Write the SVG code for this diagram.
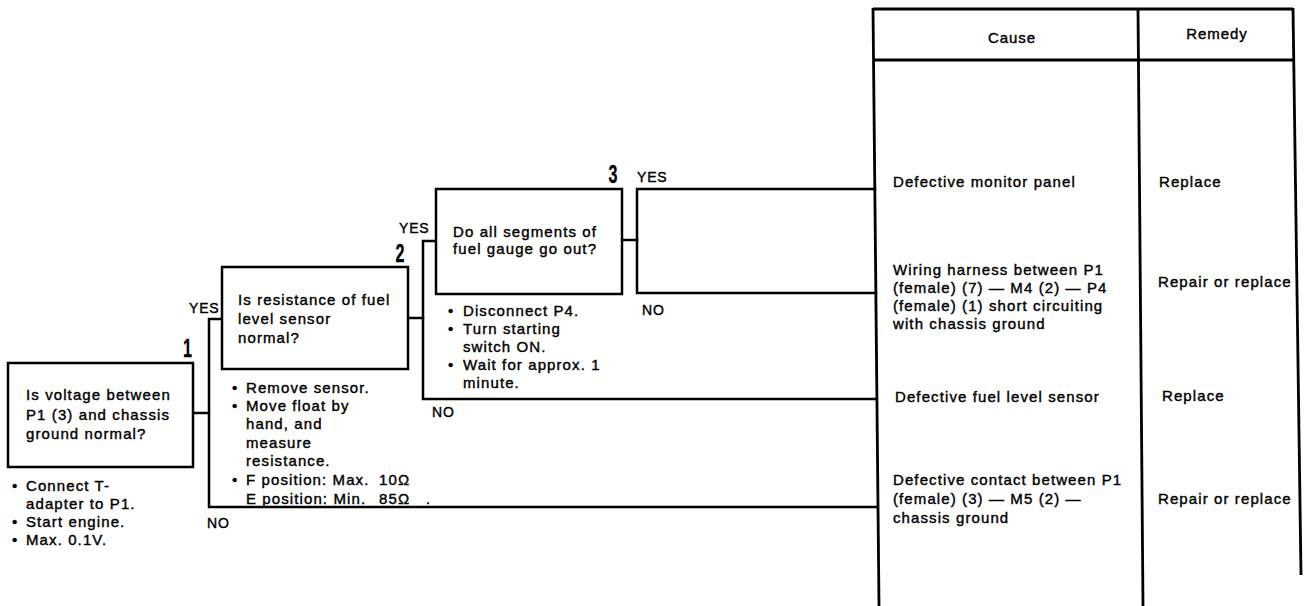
<svg xmlns="http://www.w3.org/2000/svg" width="1304" height="606" viewBox="0 0 1304 606">
<style>
  .box { fill: #fff; stroke: #000; stroke-width: 2.5; }
  .ln { fill: none; stroke: #000; stroke-width: 2.5; stroke-linecap: square; }
  .tb { fill: none; stroke: #000; stroke-width: 2.8; }
  text { font-family: "Liberation Sans", Arial, sans-serif; font-size: 15px; letter-spacing: 1.1px; fill: #000; stroke: #000; stroke-width: 0.4; }
  .hd { font-size: 15px; letter-spacing: 0.9px; }
  .num { font-family: "Liberation Sans", Arial, sans-serif; font-weight: bold; font-size: 26px; letter-spacing: 0; stroke-width: 0.3; }
  .lbl { font-size: 14px; letter-spacing: 0.8px; }
</style>
<rect x="0" y="0" width="1304" height="606" fill="#fff"/>

<g id="table">
  <line class="tb" x1="873" y1="9" x2="1293" y2="9"/>
  <line class="tb" x1="873" y1="60" x2="1294" y2="60"/>
  <line class="tb" x1="873" y1="8" x2="879" y2="606"/>
  <line class="tb" x1="1138" y1="8" x2="1143" y2="606"/>
  <line class="tb" x1="1293" y1="8" x2="1301" y2="575"/>
  <text class="hd" x="1012" y="43" text-anchor="middle">Cause</text>
  <text class="hd" x="1217" y="39" text-anchor="middle">Remedy</text>
</g>

<g id="connectors">
  <polyline class="ln" points="193,413 209,413"/>
  <polyline class="ln" points="222,319 209,319 209,507 877,507"/>
  <polyline class="ln" points="408,318 423,318"/>
  <polyline class="ln" points="436,241 423,241 423,399 876,399"/>
  <polyline class="ln" points="622,240 637,240"/>
  <polyline class="ln" points="875,189 637,189 637,293 876,293"/>
  <text class="lbl" x="189" y="313">YES</text>
  <text class="lbl" x="207" y="528">NO</text>
  <text class="lbl" x="399" y="233">YES</text>
  <text class="lbl" x="432" y="417">NO</text>
  <text class="lbl" x="637" y="182">YES</text>
  <text class="lbl" x="642" y="315">NO</text>
</g>

<g id="node1">
  <rect class="box" x="8" y="363" width="185" height="104"/>
  <text transform="translate(187.5,357) scale(0.62,1)" class="num" text-anchor="middle">1</text>
  <text x="26" y="400">Is voltage between</text>
  <text x="26" y="419.5">P1 (3) and chassis</text>
  <text x="26" y="439">ground normal?</text>
  <text x="12" y="491" letter-spacing="0">•</text>
  <text x="26" y="491">Connect T-</text>
  <text x="26" y="509">adapter to P1.</text>
  <text x="12" y="527" letter-spacing="0">•</text>
  <text x="26" y="527">Start engine.</text>
  <text x="12" y="545" letter-spacing="0">•</text>
  <text x="26" y="545">Max. 0.1V.</text>
</g>

<g id="node2">
  <rect class="box" x="222" y="267" width="186" height="102"/>
  <text transform="translate(400,262) scale(0.62,1)" class="num" text-anchor="middle">2</text>
  <text x="238" y="305">Is resistance of fuel</text>
  <text x="238" y="324">level sensor</text>
  <text x="238" y="343">normal?</text>
  <text x="232" y="393" letter-spacing="0">•</text>
  <text x="246" y="393">Remove sensor.</text>
  <text x="232" y="411" letter-spacing="0">•</text>
  <text x="246" y="411">Move float by</text>
  <text x="246" y="429">hand, and</text>
  <text x="246" y="448">measure</text>
  <text x="246" y="466">resistance.</text>
  <text x="232" y="485" letter-spacing="0">•</text>
  <text x="246" y="485">F position: Max.<tspan x="379">10Ω</tspan></text>
  <text x="246" y="504">E position: Min.<tspan x="379">85Ω</tspan><tspan x="426">.</tspan></text>
</g>

<g id="node3">
  <rect class="box" x="436" y="189" width="186" height="105"/>
  <text transform="translate(613,183) scale(0.62,1)" class="num" text-anchor="middle">3</text>
  <text x="453" y="237">Do all segments of</text>
  <text x="453" y="254">fuel gauge go out?</text>
  <text x="448" y="316" letter-spacing="0">•</text>
  <text x="463" y="316">Disconnect P4.</text>
  <text x="448" y="334" letter-spacing="0">•</text>
  <text x="463" y="334">Turn starting</text>
  <text x="463" y="352">switch ON.</text>
  <text x="448" y="370" letter-spacing="0">•</text>
  <text x="463" y="370">Wait for approx. 1</text>
  <text x="463" y="388">minute.</text>
</g>

<g id="result1">
  <text x="893" y="187">Defective monitor panel</text>
  <text x="1159" y="187">Replace</text>
</g>
<g id="result2">
  <text x="893" y="275">Wiring harness between P1</text>
  <text x="893" y="293">(female) (7) — M4 (2) — P4</text>
  <text x="893" y="311">(female) (1) short circuiting</text>
  <text x="893" y="329">with chassis ground</text>
  <text x="1158" y="287">Repair or replace</text>
</g>
<g id="result3">
  <text x="895" y="402">Defective fuel level sensor</text>
  <text x="1162" y="401">Replace</text>
</g>
<g id="result4">
  <text x="893" y="485">Defective contact between P1</text>
  <text x="893" y="504">(female) (3) — M5 (2) —</text>
  <text x="893" y="523">chassis ground</text>
  <text x="1158" y="504">Repair or replace</text>
</g>
</svg>
